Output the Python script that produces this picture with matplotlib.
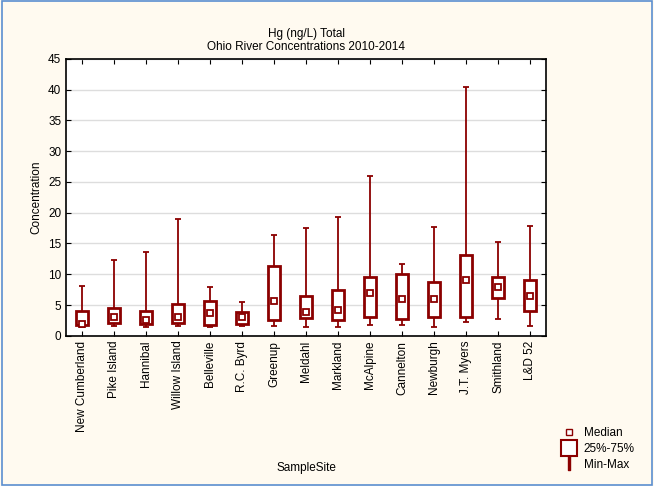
import matplotlib
matplotlib.use("Agg")
from matplotlib import pyplot as plt
from matplotlib.patches import Rectangle
from matplotlib.lines import Line2D

plt.rcParams["font.family"] = ["Liberation Sans", "DejaVu Sans"]

sites = ["New Cumberland", "Pike Island", "Hannibal", "Willow Island", "Belleville",
         "R.C. Byrd", "Greenup", "Meldahl", "Markland", "McAlpine", "Cannelton",
         "Newburgh", "J.T. Myers", "Smithland", "L&D 52"]
mins = [1.5, 1.6, 1.5, 1.6, 1.5, 1.6, 1.6, 1.5, 1.5, 1.7, 1.7, 1.5, 2.3, 2.8, 1.6]
q1 = [1.7, 2.1, 1.9, 2.1, 1.7, 1.9, 2.5, 2.9, 2.5, 3.1, 2.8, 3.1, 3.1, 6.2, 4.1]
medians = [1.9, 3.0, 2.6, 3.0, 3.7, 3.0, 5.7, 3.9, 4.2, 6.9, 6.0, 6.0, 9.0, 8.0, 6.4]
q3 = [4.1, 4.5, 4.1, 5.1, 5.7, 3.9, 11.4, 6.4, 7.4, 9.5, 10.0, 8.7, 13.2, 9.5, 9.1]
maxs = [8.1, 12.3, 13.6, 19.0, 7.9, 5.5, 16.4, 17.5, 19.3, 25.9, 11.7, 17.7, 40.5, 15.2, 17.9]

red = "#8B0000"
fs = 8.5
fig = plt.figure(figsize=(6.54, 4.86), dpi=100, facecolor="#FFFAF0")
fig.patches.append(Rectangle((0.003, 0.003), 0.994, 0.994, transform=fig.transFigure,
                             fill=False, edgecolor="#5B8FD0", lw=1.2))
ax = fig.add_axes([0.101, 0.309, 0.734, 0.570])
ax.set_facecolor("white")

for i in range(len(sites)):
    ax.vlines(i, mins[i], q1[i], color=red, lw=1.3)
    ax.vlines(i, q3[i], maxs[i], color=red, lw=1.3)
    ax.hlines([mins[i], maxs[i]], i - 0.1, i + 0.1, color=red, lw=1.3)
    ax.add_patch(Rectangle((i - 0.2, q1[i]), 0.4, q3[i] - q1[i], fill=True,
                           facecolor="white", edgecolor=red, lw=2, zorder=3))
ax.plot(range(len(sites)), medians, "s", mfc="white", mec=red, mew=1.3, ms=5, ls="none", zorder=4)

ax.set_xlim(-0.5, len(sites) - 0.5)
ax.set_ylim(0, 45)
ax.set_yticks(range(0, 46, 5))
ax.set_xticks(range(len(sites)))
ax.set_xticklabels(sites, rotation=90, fontsize=fs)
ax.tick_params(axis="y", labelsize=fs, direction="in", right=True)
ax.tick_params(axis="x", direction="in", top=True)
ax.grid(axis="y", color="#DDDDDD", lw=1)
ax.set_axisbelow(True)
for s in ax.spines.values():
    s.set_linewidth(1.2)
ax.set_ylabel("Concentration", fontsize=fs)
ax.set_title("Hg (ng/L) Total\nOhio River Concentrations 2010-2014", fontsize=fs)
fig.text(0.468, 0.03, "SampleSite", ha="center", fontsize=fs)

handles = [
    Line2D([], [], marker="s", mfc="white", mec=red, ms=5, ls="none"),
    Line2D([], [], marker="s", mfc="white", mec=red, ms=11, mew=1.5, ls="none"),
    Line2D([], [], marker="$\\mathsf{I}$", color=red, ms=10, ls="none"),
]
fig.legend(handles, ["Median", "25%-75%", "Min-Max"], loc="lower left",
           bbox_to_anchor=(0.835, 0.01), frameon=False, fontsize=fs,
           handletextpad=0.3, labelspacing=0.3)

fig.savefig("out.png", dpi=100, facecolor=fig.get_facecolor())
